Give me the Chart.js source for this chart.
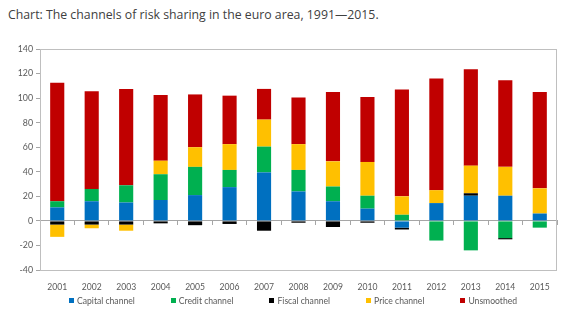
<!DOCTYPE html>
<html lang="en">
<head>
<meta charset="UTF-8">
<script src="https://cdn.jsdelivr.net/npm/chart.js@4"></script>
<title>Risk sharing channels</title>
<style>
  body { margin: 0; background: #fff; width: 588px; height: 326px; position: relative; overflow: hidden; }
  .titulo { position: absolute; left: 8px; top: 7px; font-family: "Open Sans", sans-serif; font-size: 12.3px; line-height: 16px; color: #404040; white-space: nowrap; }
  #grafico { position: absolute; left: 0; top: 0; }
  .legenda { position: absolute; left: 69px; top: 295px; display: flex; gap: 36px; font-family: Lato, sans-serif; font-size: 8.6px; color: #595959; line-height: 12px; }
  .legenda span.cor { display: inline-block; width: 5px; height: 5px; margin-right: 3px; vertical-align: 1px; }
</style>
</head>
<body>
<div class="titulo">Chart: The channels of risk sharing in the euro area, 1991—2015.</div>
<canvas id="grafico" width="588" height="326"></canvas>
<div class="legenda" id="legenda"></div>

<script>
// data
const anos = ['2001','2002','2003','2004','2005','2006','2007','2008','2009','2010','2011','2012','2013','2014','2015'];
const capital    = [11, 16, 15, 17, 21, 27.5, 39.5, 24, 16, 10, -5.5, 14.5, 20.5, 20.5, 6];
const credito    = [5, 10, 14, 21, 23, 14, 21, 17.5, 12, 10.5, 5, -16, -24, -14, -5.5];
const fiscal     = [-3, -3, -3, -2, -3.5, -2.5, -8, -1.5, -5, -1.5, -1.5, 0, 2, -1, 0];
const preco      = [-10, -3, -5, 11, 16, 21, 22, 21, 20.5, 27.5, 15, 10.5, 22.5, 23.5, 20.5];
const unsmoothed = [96.5, 79.5, 78.5, 53.5, 43, 39.5, 25, 38, 56.5, 53, 87, 91, 78.5, 70.5, 78.5];

const nomes = ['Capital channel', 'Credit channel', 'Fiscal channel', 'Price channel', 'Unsmoothed'];
const cores = ['#0070C0', '#00B050', '#000000', '#FFC000', '#C00000'];
const series = [capital, credito, fiscal, preco, unsmoothed];

const eixoCor = '#a6a6a6';
const textoCor = '#595959';

// moldura da area do grafico
const moldura = {
  id: 'moldura',
  beforeDatasetsDraw(chart) {
    const a = chart.chartArea;
    const ctx = chart.ctx;
    ctx.save();
    ctx.strokeStyle = '#bfbfbf';
    ctx.lineWidth = 1;
    ctx.strokeRect(Math.round(a.left) + 0.5, Math.round(a.top) + 0.5, Math.round(a.right - a.left) - 1, Math.round(a.bottom - a.top));
    ctx.restore();
  }
};

const datasets = series.map((s, i) => ({
  label: nomes[i],
  data: s,
  backgroundColor: cores[i],
  borderWidth: 0,
  barPercentage: 0.41,
  categoryPercentage: 1
}));

const grafico = new Chart(document.getElementById('grafico'), {
  type: 'bar',
  data: { labels: anos, datasets: datasets },
  options: {
    responsive: false,
    animation: false,
    devicePixelRatio: 1,
    layout: { padding: { top: 49, right: 31, bottom: 32, left: 0 } },
    plugins: { legend: { display: false }, tooltip: { enabled: false } },
    scales: {
      x: {
        type: 'category',
        stacked: true,
        position: { y: 0 },
        offset: true,
        ticks: { display: false },
        grid: { offset: true, drawOnChartArea: false, drawTicks: true, tickLength: 4, color: eixoCor },
        border: { display: true, color: eixoCor },
        afterFit(scale) { scale.height = 0; }
      },
      x2: {
        type: 'category',
        labels: anos,
        position: 'bottom',
        offset: true,
        grid: { display: false, drawTicks: false },
        border: { display: false },
        ticks: { padding: 12, color: textoCor, font: { family: 'Lato', size: 8.6 }, maxRotation: 0 },
        afterFit(scale) { scale.height = 24; }
      },
      y: {
        stacked: true,
        min: -40,
        max: 140,
        ticks: { stepSize: 20, padding: 3, color: textoCor, font: { family: 'Lato', size: 8.8 } },
        grid: { drawOnChartArea: false, drawTicks: true, tickLength: 4, color: eixoCor },
        border: { display: true, color: eixoCor },
        afterFit(scale) { scale.width = 40; }
      }
    }
  },
  plugins: [moldura]
});

// legenda em html
const leg = document.getElementById('legenda');
nomes.forEach((n, i) => {
  const item = document.createElement('div');
  item.innerHTML = '<span class="cor" style="background:' + cores[i] + '"></span>' + n;
  leg.appendChild(item);
});
</script>
</body>
</html>
